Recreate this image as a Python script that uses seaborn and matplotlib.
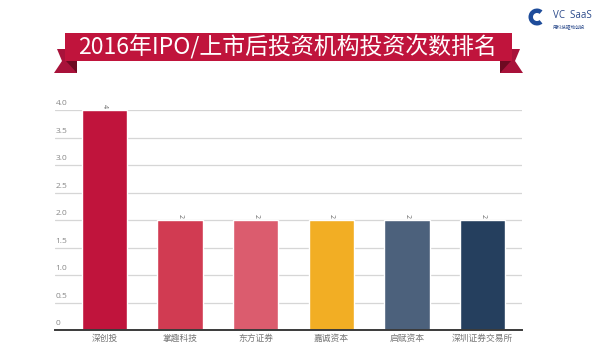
import matplotlib
matplotlib.use("Agg")
import matplotlib.pyplot as plt
import seaborn as sns
import pandas as pd
from matplotlib.patches import Polygon, Rectangle, Wedge
from matplotlib.transforms import blended_transform_factory

# ---- data ----
categories = ["深创投", "掌趣科技", "东方证券", "嘉诚资本", "启赋资本", "深圳证券交易所"]
values = [4, 2, 2, 2, 2, 2]
bar_colors = ["#C0143C", "#D13B52", "#DB5C6E", "#F2AE24", "#4C617C", "#253F5E"]
y_ticks = [0, 0.5, 1.0, 1.5, 2.0, 2.5, 3.0, 3.5, 4.0]
y_tick_labels = ["0", "0.5", "1.0", "1.5", "2.0", "2.5", "3.0", "3.5", "4.0"]
title = "2016年IPO/上市后投资机构投资次数排名"

sns.set_style("white")
plt.rcParams["font.family"] = ["Noto Sans CJK SC", "DejaVu Sans"]

W, H = 600, 357
fig = plt.figure(figsize=(W / 100, H / 100), dpi=100)

# ---- main chart ----
ax = fig.add_axes([55 / W, (H - 330) / H, 467 / W, 220 / H])
df = pd.DataFrame({"cat": categories, "val": values})
sns.barplot(data=df, x="cat", y="val", hue="cat", palette=bar_colors,
            width=0.6, legend=False, ax=ax, saturation=1, zorder=3)
ax.set_xlim(-0.655, 5.52)
ax.set_ylim(0, 4.0)
ax.set_xlabel("")
ax.set_ylabel("")
for s in ["top", "right", "left"]:
    ax.spines[s].set_visible(False)
ax.spines["bottom"].set_color("#3a3a3a")
ax.spines["bottom"].set_linewidth(1.4)
ax.spines["bottom"].set_zorder(5)
ax.set_yticks(y_ticks)
ax.set_yticklabels([])
ax.tick_params(axis="y", length=0)
ax.yaxis.grid(True, color="#d6d6d6", linewidth=0.9, zorder=0)
ax.set_axisbelow(True)
ax.tick_params(axis="x", length=0, pad=3, labelsize=6.3, labelcolor="#777777")

trans = blended_transform_factory(ax.transAxes, ax.transData)
for t, lab in zip(y_ticks, y_tick_labels):
    ax.annotate(lab, xy=(0, t), xycoords=trans, xytext=(0.5, 2),
                textcoords="offset points", ha="left", va="bottom",
                fontsize=6, color="#888888", family=["Open Sans", "DejaVu Sans"])

for i, v in enumerate(values):
    ax.annotate(str(v), xy=(i, v), xytext=(0, 1.5), textcoords="offset points",
                ha="center", va="bottom", rotation=-90, fontsize=5,
                color="#666666", family=["Open Sans", "DejaVu Sans"])

# ---- banner & logo overlay ----
ov = fig.add_axes([0, 0, 1, 1], zorder=10)
ov.set_xlim(0, W)
ov.set_ylim(H, 0)
ov.axis("off")
ov.patch.set_alpha(0)

tail = "#A8123A"
fold = "#6E0A22"
ov.add_patch(Polygon([(57, 49), (66, 49), (66, 61), (77, 61), (77, 73), (54, 73), (62, 61)],
                     closed=True, fc=tail, ec="none"))
ov.add_patch(Polygon([(66, 61), (77, 61), (77, 73)], closed=True, fc=fold, ec="none"))
ov.add_patch(Polygon([(511, 49), (520, 49), (515, 61), (523, 73), (500, 73), (500, 61), (511, 61)],
                     closed=True, fc=tail, ec="none"))
ov.add_patch(Polygon([(500, 61), (511, 61), (500, 73)], closed=True, fc=fold, ec="none"))
ov.add_patch(Rectangle((65, 33), 447, 28, fc="#C0143C", ec="none"))
ov.text(287.5, 47.5, title, ha="center", va="center", color="white",
        fontsize=16.5, fontweight="light")

# logo
ov.add_patch(Wedge((537, 17), 8.5, 50, 310, width=4.5, fc="#1E4C9A", ec="none"))
ov.text(553, 16, "VC  SaaS", ha="left", va="center", fontsize=7,
        color="#2B4A8B", family=["Open Sans", "DejaVu Sans"])
ov.text(553, 27, "用科技驱动创投", ha="left", va="center", fontsize=3.3,
        color="#2B4A8B")

fig.savefig("out.png", dpi=100)
